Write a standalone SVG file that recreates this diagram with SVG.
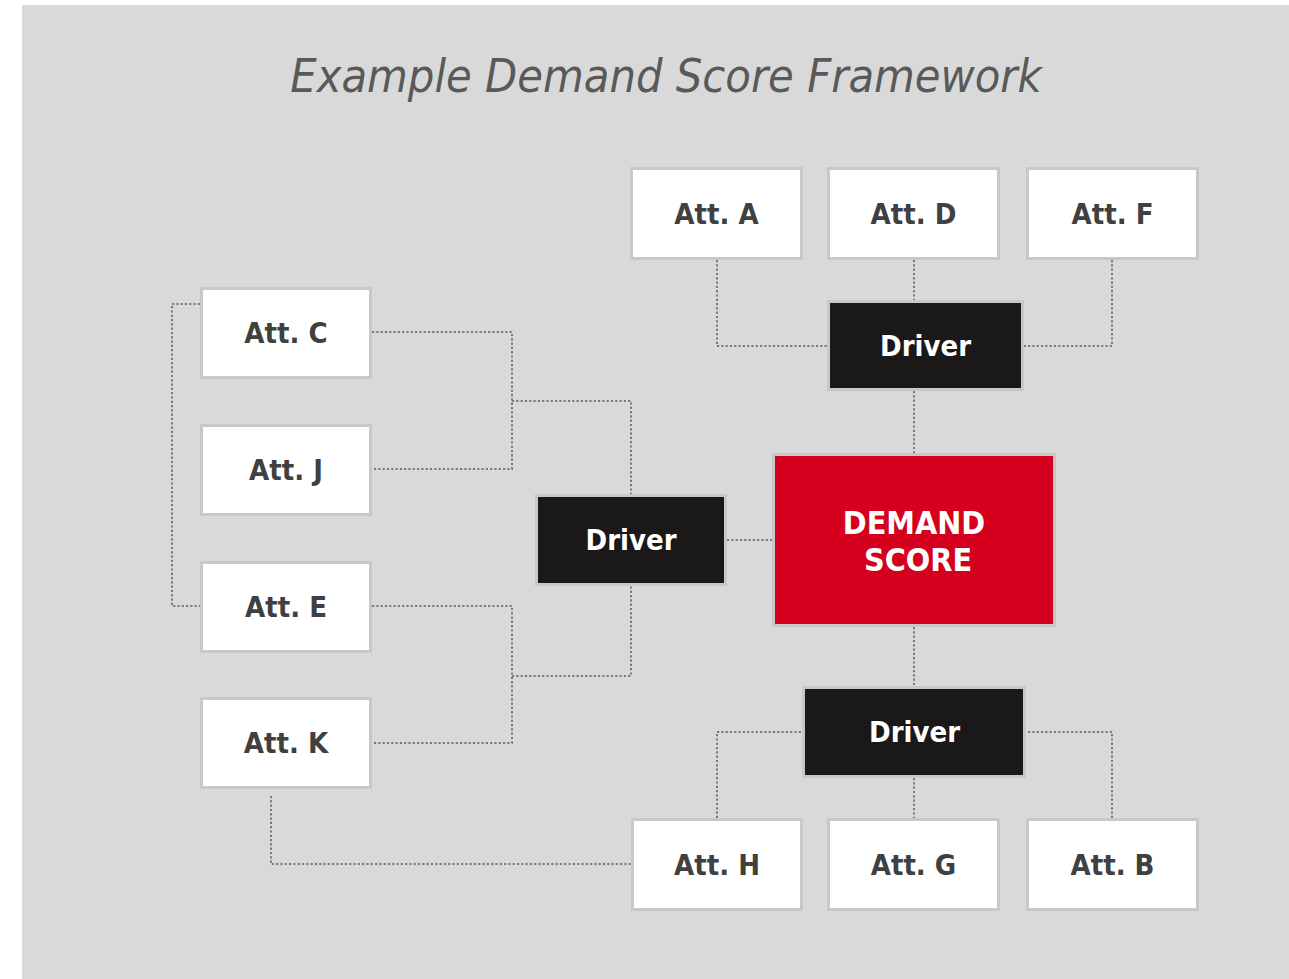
<svg xmlns="http://www.w3.org/2000/svg" width="1289" height="979" viewBox="0 0 1289 979">
<style>
.att{fill:#ffffff;stroke:#c8c8c8;stroke-width:3}
.drv{fill:#1b1819;stroke:#c8c8c8;stroke-width:3}
.ds{fill:#d5001e;stroke:#c8c8c8;stroke-width:3}
.lbl{font-family:"DejaVu Sans Condensed","DejaVu Sans",sans-serif;font-stretch:condensed;font-weight:bold;font-size:29px;text-anchor:middle}
.big{font-size:32px}
.dark{fill:#404040}
.light{fill:#ffffff}
.title{font-family:"DejaVu Sans Condensed","DejaVu Sans",sans-serif;font-stretch:condensed;font-style:italic;font-size:46.5px;fill:#595959;text-anchor:middle}
.conn path{fill:none;stroke:#7a7a7a;stroke-width:2;stroke-dasharray:2.2 2.1}
</style>
<rect x="0" y="0" width="1289" height="979" fill="#ffffff"/>
<rect x="22" y="5" width="1267" height="974" fill="#d9d9d9"/>
<text class="title" x="666" y="92">Example Demand Score Framework</text>
<g id="connectors" class="conn">
<path d="M717 260 V346 H827"/>
<path d="M914 260 V300"/>
<path d="M1112 260 V346 H1024"/>
<path d="M914 391 V453"/>
<path d="M200 304 H172 V606 H200"/>
<path d="M372 332 H512 V469 H372"/>
<path d="M512 401 H631 V494"/>
<path d="M372 606 H512 V743 H372"/>
<path d="M512 676 H631 V586"/>
<path d="M727 540 H772"/>
<path d="M271 796 V864 H635"/>
<path d="M914 627 V686"/>
<path d="M717 818 V732 H802"/>
<path d="M914 778 V818"/>
<path d="M1112 818 V732 H1026"/>
</g>
<g id="attA"><rect class="att" x="631.5" y="168.5" width="170" height="90"/><text class="lbl dark" x="716.5" y="224">Att. A</text></g>
<g id="attD"><rect class="att" x="828.5" y="168.5" width="170" height="90"/><text class="lbl dark" x="913.5" y="224">Att. D</text></g>
<g id="attF"><rect class="att" x="1027.5" y="168.5" width="170" height="90"/><text class="lbl dark" x="1112.5" y="224">Att. F</text></g>
<g id="driverTop"><rect class="drv" x="828.5" y="301.5" width="194" height="88"/><text class="lbl light" x="925.5" y="356">Driver</text></g>
<g id="attC"><rect class="att" x="201.5" y="288.5" width="169" height="89"/><text class="lbl dark" x="286" y="343">Att. C</text></g>
<g id="attJ"><rect class="att" x="201.5" y="425.5" width="169" height="89"/><text class="lbl dark" x="286" y="480">Att. J</text></g>
<g id="attE"><rect class="att" x="201.5" y="562.5" width="169" height="89"/><text class="lbl dark" x="286" y="617">Att. E</text></g>
<g id="attK"><rect class="att" x="201.5" y="698.5" width="169" height="89"/><text class="lbl dark" x="286" y="753">Att. K</text></g>
<g id="driverLeft"><rect class="drv" x="536.5" y="495.5" width="189" height="89"/><text class="lbl light" x="631" y="550">Driver</text></g>
<g id="demandScore"><rect class="ds" x="773.5" y="454.5" width="281" height="171"/><text class="lbl big light" x="914" y="534">DEMAND</text><text class="lbl big light" x="918" y="571">SCORE</text></g>
<g id="driverBottom"><rect class="drv" x="803.5" y="687.5" width="221" height="89"/><text class="lbl light" x="914.5" y="742">Driver</text></g>
<g id="attH"><rect class="att" x="632.5" y="819.5" width="169" height="90"/><text class="lbl dark" x="717" y="875">Att. H</text></g>
<g id="attG"><rect class="att" x="828.5" y="819.5" width="170" height="90"/><text class="lbl dark" x="913.5" y="875">Att. G</text></g>
<g id="attB"><rect class="att" x="1027.5" y="819.5" width="170" height="90"/><text class="lbl dark" x="1112.5" y="875">Att. B</text></g>
</svg>
